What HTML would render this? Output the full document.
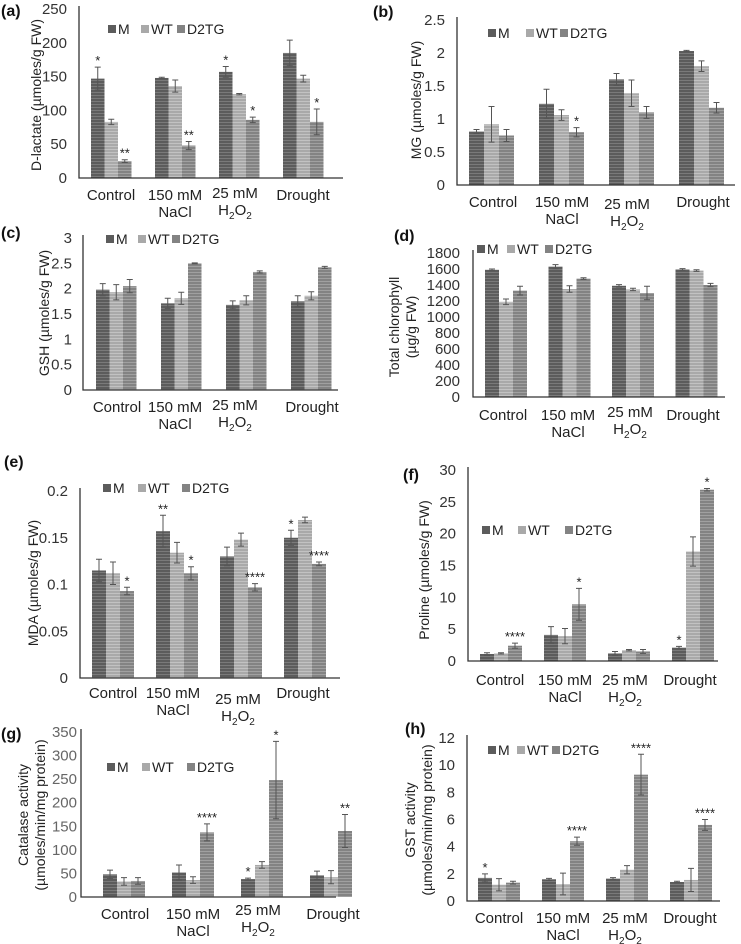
<!DOCTYPE html>
<html><head><meta charset="utf-8">
<style>
html,body{margin:0;padding:0;background:#fff;}
svg{display:block;font-family:"Liberation Sans",Arial,sans-serif;}
</style></head>
<body>
<svg id="fig" width="741" height="944" viewBox="0 0 741 944" xmlns="http://www.w3.org/2000/svg">
<defs>
<pattern id="pM" width="4" height="3" patternUnits="userSpaceOnUse"><rect width="4" height="3" fill="#5c5c5c"/><rect y="2" width="4" height="1" fill="#7a7a7a"/></pattern>
<pattern id="pWT" width="4" height="3" patternUnits="userSpaceOnUse"><rect width="4" height="3" fill="#a9a9a9"/><rect y="2" width="4" height="1" fill="#c2c2c2"/></pattern>
<pattern id="pD" width="4" height="3" patternUnits="userSpaceOnUse"><rect width="4" height="3" fill="#838383"/><rect y="2" width="4" height="1" fill="#a0a0a0"/></pattern>
</defs>
</svg>
<script>
const categories=["Control","150 mM|NaCl","25 mM|H2O2","Drought"];
const seriesNames=["M","WT","D2TG"];
// (a) D-lactate
const aM=[147,148,157,185], aWT=[83,136,124,147], aD=[25,48,86,83];
const aEM=[17,1,8,19], aEW=[4,9,1,5], aED=[2,6,4,19];
const aSig=["*","","**","","","**","*","","*","","","*"];
// (b) MG
const bM=[0.81,1.23,1.6,2.03], bWT=[0.92,1.06,1.39,1.8], bD=[0.75,0.8,1.1,1.17];
const bEM=[0.03,0.22,0.09,0.01], bEW=[0.27,0.08,0.2,0.08], bED=[0.09,0.07,0.09,0.08];
const bSig=["","","","","","*","","","","","",""];
// (c) GSH
const cM=[1.98,1.71,1.68,1.75], cWT=[1.93,1.81,1.77,1.86], cD=[2.05,2.5,2.33,2.42];
const cEM=[0.12,0.1,0.08,0.11], cEW=[0.15,0.12,0.09,0.08], cED=[0.13,0.01,0.02,0.02];
const cSig=["","","","","","","","","","","",""];
// (d) chlorophyll
const dM=[1590,1630,1390,1595], dWT=[1190,1350,1345,1580], dD=[1330,1480,1300,1400];
const dEM=[10,25,15,10], dEW=[35,40,15,10], dED=[55,10,85,20];
const dSig=["","","","","","","","","","","",""];
// (e) MDA
const eM=[0.115,0.157,0.130,0.150], eWT=[0.112,0.134,0.148,0.169], eD=[0.093,0.112,0.097,0.122];
const eEM=[0.012,0.017,0.01,0.008], eEW=[0.012,0.011,0.007,0.003], eED=[0.004,0.007,0.004,0.002];
const eSig=["","","*","**","","*","","","****","*","","****"];
// (f) Proline
const fM=[1.1,4.1,1.2,2.1], fWT=[1.2,3.9,1.7,17.2], fD=[2.4,8.9,1.5,26.9];
const fEM=[0.2,1.3,0.3,0.2], fEW=[0.1,1.2,0.1,2.3], fED=[0.4,2.5,0.3,0.2];
const fSig=["","","****","","","*","","","","*","","*"];
// (g) Catalase
const gM=[48,52,38,46], gWT=[33,36,68,42], gD=[34,137,248,140];
const gEM=[9,16,2,9], gEW=[8,7,7,14], gED=[7,18,82,35];
const gSig=["","","","","","****","*","","*","","","**"];
// (h) GST
const hM=[1.7,1.6,1.65,1.4], hWT=[1.2,1.25,2.3,1.55], hD=[1.35,4.4,9.3,5.6];
const hEM=[0.3,0.07,0.07,0.05], hEW=[0.45,0.8,0.3,0.85], hED=[0.1,0.3,1.5,0.4];
const hSig=["*","","","","","****","","","****","","","****"];

const NS="http://www.w3.org/2000/svg";
const svg=document.getElementById('fig');
function el(tag,attrs,parent){const e=document.createElementNS(NS,tag);for(const k in attrs)e.setAttribute(k,attrs[k]);(parent||svg).appendChild(e);return e;}
const fills=["url(#pM)","url(#pWT)","url(#pD)"];
const legFill=["#5c5c5c","#a9a9a9","#838383"];

function catText(g,txt,x,y,name){
  const t=el('text',{x:x,y:y,'text-anchor':'middle','font-size':15,fill:'#222'},g);
  
  
  if(txt==="H2O2"){
    t.appendChild(document.createTextNode('H'));
    const s1=el('tspan',{'font-size':10,dy:4},t);s1.textContent='2';
    const s2=el('tspan',{dy:-4},t);s2.textContent='O';
    const s3=el('tspan',{'font-size':10,dy:4},t);s3.textContent='2';
  } else t.textContent=txt;
}

function panel(P,vals,errs,sigs){
  const g=el('g',{});
  
  
  const ys=v=>P.y0-v/P.max*(P.y0-P.yTop);
  const lb=el('text',{x:P.lx,y:P.ly,'font-size':16,'font-weight':'bold',fill:'#111'},g);
  lb.textContent='('+P.id+')';
  
  
  for(let v=0;v<=P.max+1e-9;v+=P.step){
    const t=el('text',{x:P.tr,y:ys(v)+5,'text-anchor':'end','font-size':15,fill:P.tc||'#333'},g);
    t.textContent=String(+v.toFixed(3));
    
    
  }
  const tt=el('text',{transform:`translate(${P.tx},${P.ty}) rotate(-90)`,'text-anchor':'middle','font-size':14,fill:'#222'},g);
  
  
  P.title.forEach((ln,i)=>{const s=el('tspan',{x:0,dy:i===0?(P.title.length>1?-9:5):17},tt);s.textContent=ln;});
  for(let c=0;c<4;c++){
    for(let s=0;s<3;s++){
      const v=vals[s][c], e=errs[s][c];
      const x=P.fb+c*P.sp+s*P.bw;
      const r=el('rect',{x:x,y:ys(v),width:P.bw,height:P.y0-ys(v),fill:fills[s]},g);
      
      
      const cx=x+P.bw/2, t1=ys(v+e), t2=ys(Math.max(0,v-e));
      const eb=el('path',{d:`M${cx},${t1}V${t2}M${cx-3},${t1}H${cx+3}M${cx-3},${t2}H${cx+3}`,stroke:'#555','stroke-width':1,fill:'none'},g);
      
      
      const sg=sigs[c*3+s];
      if(sg){
        const st=el('text',{x:cx,y:t1-2,'text-anchor':'middle','font-size':13,fill:'#222'},g);
        st.textContent=sg;
        
        
      }
    }
  }
  const ax=el('path',{d:`M${P.x0},${P.yTop-3}V${P.y0}H${P.x1}`,stroke:'#333','stroke-width':1.3,fill:'none'},g);
  
  
  for(let c=0;c<4;c++){
    const parts=categories[c].split('|');
    const cy=P.cy[c];
    parts.forEach((p,i)=>catText(g,p,P.cx[c],cy+i*17,'x-category-label'));
  }
  for(let s=0;s<3;s++){
    const lg=el('g',{},g);
    
    
    el('rect',{x:P.leg[s],y:P.legY-4,width:8,height:8,fill:legFill[s]},lg);
    const t=el('text',{x:P.leg[s]+10,y:P.legY+5,'font-size':14,fill:'#222'},lg);
    t.textContent=seriesNames[s];
  }
}

panel({id:'a',lx:1,ly:16,x0:79,x1:343,y0:178,yTop:9,max:250,step:50,fb:91,sp:64,bw:13.5,tr:67,tx:36,ty:95,
  title:['D-lactate (µmoles/g FW)'],cx:[111,175,235,303],cy:[200,200,198,200],leg:[108,141,177],legY:29},
  [aM,aWT,aD],[aEM,aEW,aED],aSig);
panel({id:'b',lx:373,ly:17,x0:457,x1:735,y0:185,yTop:20,max:2.5,step:0.5,fb:469,sp:70,bw:15,tr:445,tx:416,ty:100,
  title:['MG (µmoles/g FW)'],cx:[493,562,627,703],cy:[207,207,209,207],leg:[488,526,560],legY:33},
  [bM,bWT,bD],[bEM,bEW,bED],bSig);
panel({id:'c',lx:1,ly:238,x0:83,x1:338,y0:390,yTop:238,max:3,step:0.5,fb:96,sp:65,bw:13.5,tr:72,tx:44,ty:313,
  title:['GSH (µmoles/g FW)'],cx:[117,175,235,312],cy:[412,412,410,412],leg:[106,138,172],legY:239},
  [cM,cWT,cD],[cEM,cEW,cED],cSig);
panel({id:'d',lx:394,ly:241,x0:473,x1:725,y0:397,yTop:253,max:1800,step:200,fb:485,sp:63.5,bw:14,tr:460,tx:408,ty:327,
  title:['Total chlorophyll','(µg/g FW)'],cx:[503,568,630,693],cy:[420,420,417,420],leg:[477,507,545],legY:249},
  [dM,dWT,dD],[dEM,dEW,dED],dSig);
panel({id:'e',lx:4,ly:467,x0:80,x1:340,y0:678,yTop:491,max:0.2,step:0.05,fb:92,sp:64,bw:14,tr:68,tx:33,ty:583,
  title:['MDA (µmoles/g FW)'],cx:[113,173,238,303],cy:[698,698,704,698],leg:[103,138,182],legY:488},
  [eM,eWT,eD],[eEM,eEW,eED],eSig);
panel({id:'f',lx:403,ly:480,x0:468,x1:718,y0:661,yTop:470,max:30,step:5,fb:480,sp:64,bw:14,tr:456,tx:424,ty:570,
  title:['Proline (µmoles/g FW)'],cx:[500,565,625,690],cy:[685,685,685,685],leg:[482,518,565],legY:530},
  [fM,fWT,fD],[fEM,fEW,fED],fSig);
panel({id:'g',lx:1,ly:739,x0:81,x1:336,y0:897,yTop:732,max:350,step:50,fb:103,sp:69,bw:14,tr:77,tc:'#666',tx:37,ty:815,
  title:['Catalase activity','(µmoles/min/mg protein)'],cx:[125,193,258,333],cy:[919,919,915,919],leg:[107,142,187],legY:767},
  [gM,gWT,gD],[gEM,gEW,gED],gSig);
panel({id:'h',lx:405,ly:734,x0:467,x1:720,y0:901,yTop:738,max:12,step:2,fb:478,sp:64,bw:14,tr:455,tx:424,ty:820,
  title:['GST activity','(µmoles/min/mg protein)'],cx:[499,563,625,690],cy:[923,923,923,923],leg:[488,517,552],legY:750},
  [hM,hWT,hD],[hEM,hEW,hED],hSig);
</script>
</body></html>
